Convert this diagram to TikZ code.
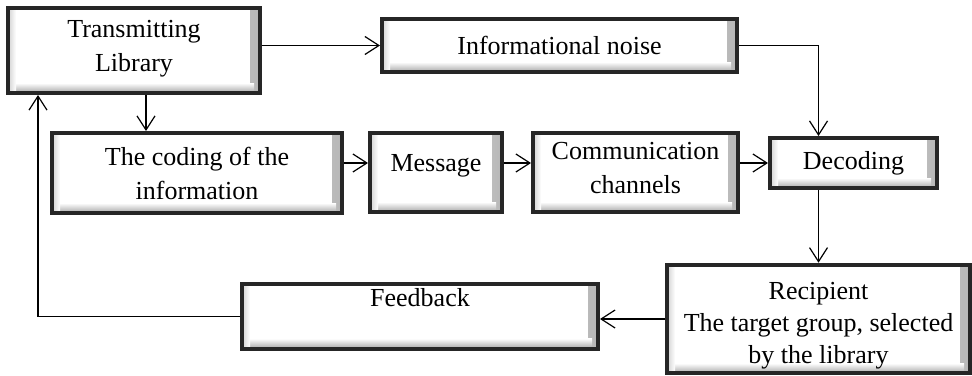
\documentclass[tikz,border=0pt]{standalone}
\usepackage{fontspec}
\setmainfont{Liberation Serif}
\usetikzlibrary{arrows.meta,calc}

\tikzset{>={Straight Barb[length=7pt,width=9pt]}}

\begin{document}
\begin{tikzpicture}[x=0.5pt, y=-0.5pt]
	\tikzstyle{block} = [rectangle, draw=black!85, line width=2pt, fill=white, align=center,
		font=\fontsize{13}{17}\selectfont, inner sep=2pt,
		path picture={
			\shade[left color=white, right color=black!28]
				([xshift=-5pt]path picture bounding box.north east) rectangle (path picture bounding box.south east);
			\shade[top color=white, bottom color=black!35]
				([yshift=5pt]path picture bounding box.south west) rectangle ([xshift=-3pt]path picture bounding box.south east);
			\shade[left color=black!18, right color=white]
				(path picture bounding box.north west) rectangle ([xshift=4pt]path picture bounding box.south west);
		}]
	\tikzstyle{edge} = [->, line width=0.6pt]

	\useasboundingbox (0,0) rectangle (972,375);

%----------top row------------------------------
	\node[block, minimum width=126pt, minimum height=42.5pt, text depth=5pt] (trans) at (134,50.5) {Transmitting\\Library};
	\node[block, minimum width=177.5pt, minimum height=26.5pt] (noise) at (559.5,45.5) {Informational noise};

	\draw[edge] (trans.east |- noise.west) -- (noise.west);

%----------middle row---------------------------
	\node[block, minimum width=145pt, minimum height=40pt] (cod) at (197,173) {The coding of the\\information};
	\node[block, minimum width=66pt, minimum height=39.5pt, text depth=10pt] (msg) at (436,172.5) {Message};
	\node[block, minimum width=102.5pt, minimum height=39.5pt, text depth=5pt] (chan) at (635.5,172.5) {Communication\\channels};
	\node[block, minimum width=83.5pt, minimum height=25pt] (dec) at (853.5,163) {Decoding};

	\draw[edge] ([xshift=6pt]trans.south) -- ([xshift=6pt]trans.south |- cod.north);
	\draw[edge] (cod.east |- dec.west) -- (msg.west |- dec.west);
	\draw[edge] (msg.east |- dec.west) -- (chan.west |- dec.west);
	\draw[edge] (chan.east |- dec.west) -- (dec.west);

%----------bottom row---------------------------
	\node[block, minimum width=151.5pt, minimum height=53pt, font=\fontsize{13}{16}\selectfont] (rec) at (818.5,319) {\rule{0pt}{15.5pt}Recipient\\The target group, selected\\by the library};
	\node[block, minimum width=178pt, minimum height=31.5pt, text depth=19pt] (fb) at (420,316.5) {Feedback};

	\draw[edge] (noise.east) -| (dec.north -| rec.north);
	\draw[edge] (dec.south -| rec.north) -- (rec.north);
	\draw[edge] (rec.west) -- (rec.west -| fb.east);
	\draw[edge] (fb.west) -| ([xshift=16pt]trans.south west);

\end{tikzpicture}
\end{document}
